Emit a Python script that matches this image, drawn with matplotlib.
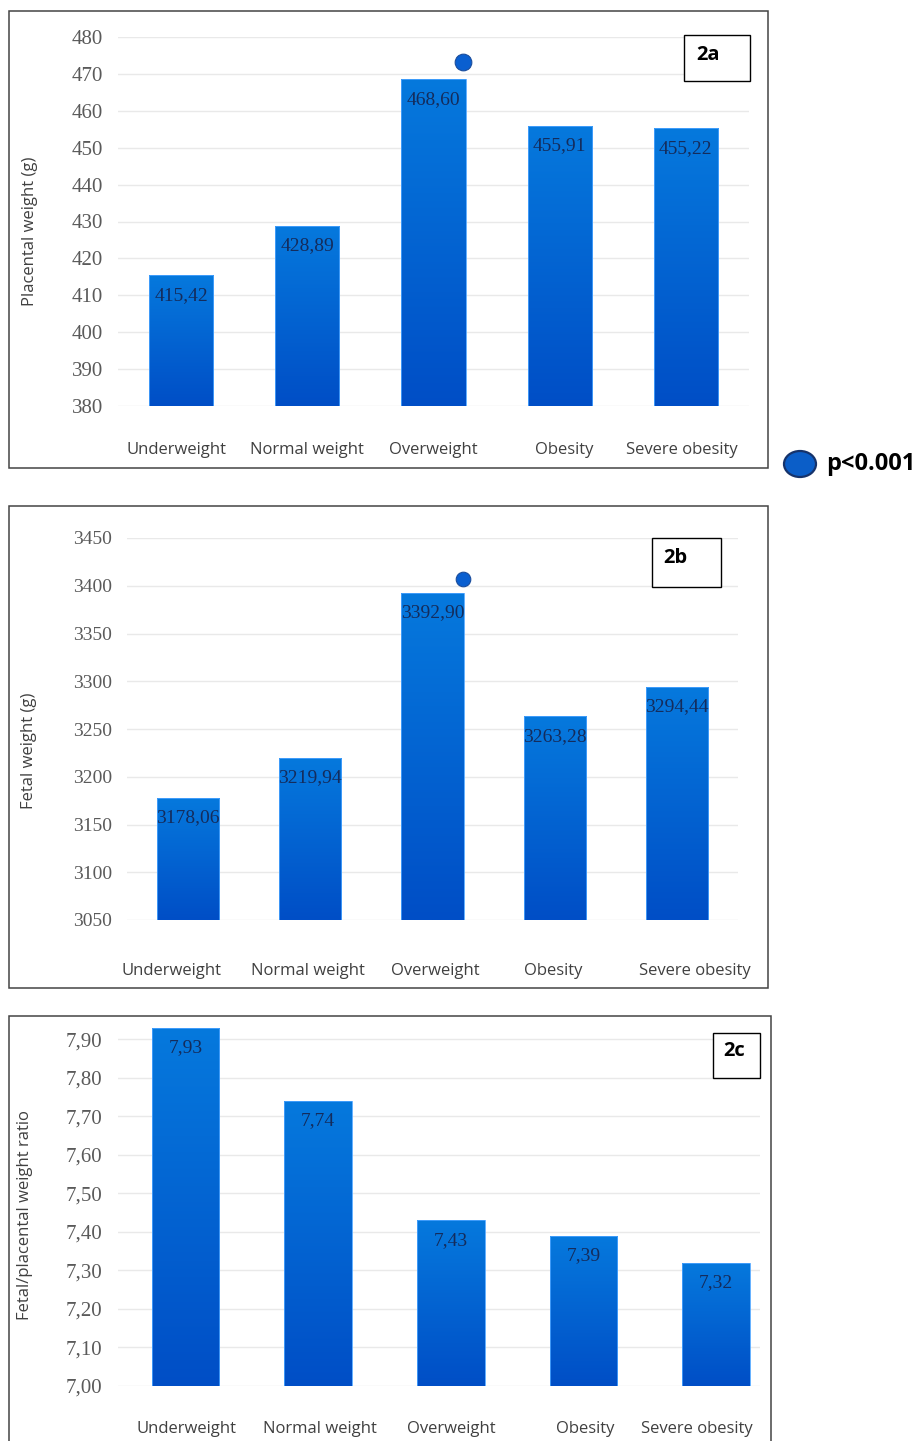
import matplotlib
matplotlib.use("Agg")
import matplotlib.pyplot as plt
from matplotlib.patches import Rectangle, Ellipse
import numpy as np

# Data
categories = ["Underweight", "Normal weight", "Overweight", "Obesity", "Severe obesity"]
placental = [415.42, 428.89, 468.60, 455.91, 455.22]
fetal = [3178.06, 3219.94, 3392.90, 3263.28, 3294.44]
ratio = [7.93, 7.74, 7.43, 7.39, 7.32]

placental_ticks = [380, 390, 400, 410, 420, 430, 440, 450, 460, 470, 480]
fetal_ticks = [3050, 3100, 3150, 3200, 3250, 3300, 3350, 3400, 3450]
ratio_ticks = [7.00, 7.10, 7.20, 7.30, 7.40, 7.50, 7.60, 7.70, 7.80, 7.90]

sig_idx = 2                  # Overweight, p<0.001
sig_placental = 473.2
sig_fetal = 3407

W, H = 919, 1441
fig = plt.figure(figsize=(W / 100, H / 100), dpi=100)

SANS = "Open Sans"
SERIF = "Liberation Serif"
TICK_C = "#5a5a5a"
TEXT_C = "#404040"
VAL_C = "#142c5c"

fmt_int = lambda v: f"{v:.0f}"
fmt_dec = lambda v: f"{v:.2f}".replace(".", ",")


def px_axes(left, top, right, bottom):
    return fig.add_axes([left / W, 1 - bottom / H, (right - left) / W, (bottom - top) / H])


def gradient_bars(ax, values, base, width):
    bars = ax.bar(range(len(values)), np.array(values) - base, bottom=base, width=width,
                  color="none", edgecolor="#4aa3ff", linewidth=0.6, zorder=3)
    grad = np.linspace(0, 1, 256).reshape(-1, 1)
    cmap = matplotlib.colors.LinearSegmentedColormap.from_list("g", ["#004ec6", "#0679dd"])
    xl, yl = ax.get_xlim(), ax.get_ylim()
    for b in bars:
        x0, y0 = b.get_x(), b.get_y()
        im = ax.imshow(grad, extent=[x0, x0 + b.get_width(), y0, y0 + b.get_height()],
                       origin="lower", cmap=cmap, aspect="auto", zorder=2)
        im.set_clip_path(b)
    ax.set_xlim(xl)
    ax.set_ylim(yl)
    return bars


def panel(ax, values, ticks, ylim, xlim, tick_fmt, ylabel, label_xy, cat_off, cat_shift, tick_fs=15):
    ax.set_xlim(xlim)
    ax.set_ylim(ylim)
    for s in ax.spines.values():
        s.set_visible(False)
    ax.set_yticks(ticks)
    ax.set_yticklabels([tick_fmt(t) for t in ticks], family=SERIF, fontsize=tick_fs, color=TICK_C)
    ax.tick_params(axis="y", length=0, pad=11)
    ax.set_xticks([])
    for t in ticks:
        ax.axhline(t, color="#e9e9e9", lw=1.0, zorder=1)
    gradient_bars(ax, values, ylim[0], 0.51)
    for i, v in enumerate(values):
        ax.annotate(fmt_dec(v), xy=(i, v), xytext=(0, -14.5), textcoords="offset points",
                    ha="center", va="center", family=SERIF, fontsize=14, color=VAL_C, zorder=5)
        ax.annotate(categories[i], xy=(i, 0), xycoords=("data", "axes fraction"),
                    xytext=(cat_shift[i], -cat_off), textcoords="offset points",
                    ha="center", va="center", family=SANS, fontsize=12, color=TEXT_C)
    ax.set_ylabel(ylabel, family=SANS, fontsize=12, color=TEXT_C)
    ax.yaxis.set_label_coords(*label_xy)


# Panel frames (figure pixels)
for (l, t, r, b) in [(9, 11, 768, 468), (9, 506, 768, 988), (9, 1016, 771, 1460)]:
    fig.patches.append(Rectangle((l / W, 1 - b / H), (r - l) / W, (b - t) / H,
                                 transform=fig.transFigure, fill=False,
                                 edgecolor="#444444", lw=1.1, zorder=0))

# 2a
ax1 = px_axes(118, 37, 749, 406)
panel(ax1, placental, placental_ticks, (380, 480), (-0.5, 4.5), fmt_int,
      "Placental weight (g)", (-0.127, 0.474), 31.5, [-3, 0, 0, 3, -3])
ax1.plot(sig_idx + 0.23, sig_placental, "o", ms=12, color="#0a5fd0",
         mec="#1b4d9c", mew=0.8, zorder=6, clip_on=False)

# 2b
ax2 = px_axes(127, 538, 738, 920)
panel(ax2, fetal, fetal_ticks, (3050, 3450), (-0.5, 4.5), fmt_int,
      "Fetal weight (g)", (-0.148, 0.442), 36.5, [-12, -2, 2, -1, 13], tick_fs=14)
ax2.plot(sig_idx + 0.25, sig_fetal, "o", ms=10.5, color="#0a5fd0",
         mec="#1b4d9c", mew=0.8, zorder=6, clip_on=False)

# 2c
ax3 = px_axes(118, 1020, 760, 1386)
panel(ax3, ratio, ratio_ticks, (7.0, 7.95), (-0.509, 4.33), fmt_dec,
      "Fetal/placental weight ratio", (-0.132, 0.467), 31, [1, 1, 0, 1, -14])

# Panel tags
for (l, t, r, b), tag, (tx, ty) in [((684, 35, 750, 81), "2a", (696, 55)),
                                    ((652, 538, 721, 587), "2b", (663, 558)),
                                    ((713, 1033, 760, 1078), "2c", (723, 1051))]:
    fig.patches.append(Rectangle((l / W, 1 - b / H), (r - l) / W, (b - t) / H,
                                 transform=fig.transFigure, facecolor="white",
                                 edgecolor="black", lw=1.0, zorder=5))
    fig.text(tx / W, 1 - ty / H, tag, family=SANS, fontweight="bold", fontsize=14.5,
             ha="left", va="center", color="black", zorder=7)

# Legend for significance marker
fig.patches.append(Ellipse((800 / W, 1 - 464 / H), 32 / W, 26 / H, transform=fig.transFigure,
                           facecolor="#0b5ec8", edgecolor="#16336b", lw=1.6))
fig.text(826 / W, 1 - 464 / H, "p<0.001", family=SANS, fontweight="bold", fontsize=17,
         ha="left", va="center", color="black")

fig.savefig("out.png", dpi=100)
